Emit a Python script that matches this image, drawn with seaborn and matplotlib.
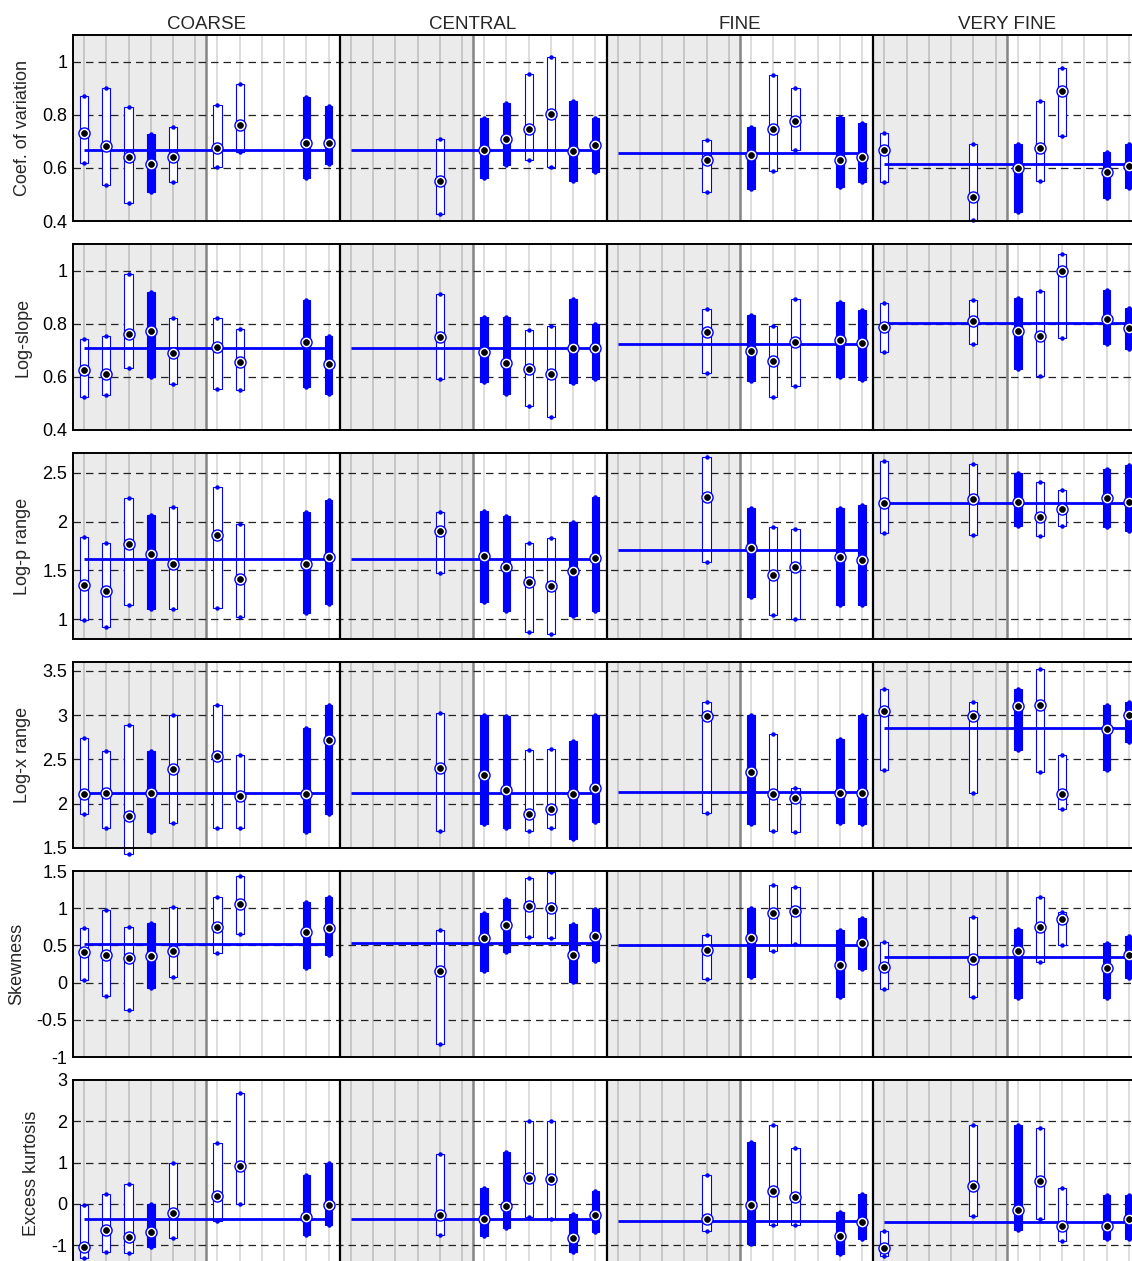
import numpy as np
import pandas as pd
import matplotlib
matplotlib.use('Agg')
import matplotlib.pyplot as plt
import matplotlib.transforms as mtransforms
import seaborn as sns

# groups (columns) and the slot (0..11) of every bar inside a group
groups = ['COARSE', 'CENTRAL', 'FINE', 'VERY FINE']
slots = [[0, 1, 2, 3, 4, 6, 7, 10, 11],
         [4, 6, 7, 8, 9, 10, 11],
         [4, 6, 7, 8, 10, 11],
         [0, 4, 6, 7, 8, 10, 11]]
filled = [[0, 0, 0, 1, 0, 0, 0, 1, 1],
          [0, 1, 1, 0, 0, 1, 1],
          [0, 1, 0, 0, 1, 1],
          [0, 0, 1, 0, 0, 1, 1]]

# Coef. of variation
cv_hi = [0.871, 0.902, 0.829, 0.727, 0.753, 0.835, 0.917, 0.867, 0.832,
         0.709, 0.787, 0.845, 0.954, 1.016, 0.850, 0.786,
         0.703, 0.754, 0.948, 0.902, 0.790, 0.767,
         0.733, 0.689, 0.689, 0.853, 0.975, 0.658, 0.689]
cv_lo = [0.620, 0.536, 0.466, 0.509, 0.547, 0.604, 0.661, 0.563, 0.614,
         0.425, 0.560, 0.609, 0.628, 0.603, 0.550, 0.586,
         0.510, 0.522, 0.589, 0.667, 0.528, 0.546,
         0.547, 0.402, 0.435, 0.552, 0.720, 0.488, 0.526]
cv_med = [0.733, 0.681, 0.640, 0.613, 0.640, 0.676, 0.763, 0.694, 0.694,
          0.549, 0.666, 0.708, 0.748, 0.803, 0.665, 0.685,
          0.630, 0.648, 0.748, 0.776, 0.630, 0.640,
          0.666, 0.490, 0.599, 0.676, 0.888, 0.585, 0.608]
cv_mean = [0.666, 0.666, 0.657, 0.614]

# Log-slope
ls_hi = [0.742, 0.754, 0.988, 0.918, 0.821, 0.821, 0.781, 0.890, 0.755,
         0.912, 0.824, 0.827, 0.778, 0.790, 0.893, 0.800,
         0.854, 0.831, 0.790, 0.894, 0.883, 0.851,
         0.878, 0.890, 0.896, 0.923, 1.064, 0.928, 0.860]
ls_lo = [0.525, 0.530, 0.634, 0.600, 0.573, 0.555, 0.551, 0.560, 0.535,
         0.593, 0.580, 0.534, 0.489, 0.448, 0.576, 0.591,
         0.614, 0.586, 0.524, 0.565, 0.601, 0.590,
         0.694, 0.725, 0.631, 0.604, 0.746, 0.725, 0.705]
ls_med = [0.624, 0.611, 0.763, 0.771, 0.691, 0.714, 0.656, 0.732, 0.647,
          0.750, 0.694, 0.651, 0.628, 0.611, 0.709, 0.708,
          0.768, 0.696, 0.660, 0.733, 0.738, 0.728,
          0.786, 0.810, 0.771, 0.754, 0.998, 0.816, 0.785]
ls_mean = [0.710, 0.710, 0.723, 0.804]

# Log-p range
lp_hi = [1.837, 1.776, 2.244, 2.071, 2.146, 2.352, 1.976, 2.102, 2.220,
         2.095, 2.108, 2.061, 1.777, 1.828, 2.000, 2.253,
         2.655, 2.135, 1.939, 1.926, 2.135, 2.169,
         2.618, 2.584, 2.500, 2.402, 2.318, 2.537, 2.574]
lp_lo = [0.993, 0.922, 1.146, 1.102, 1.104, 1.117, 1.024, 1.066, 1.156,
         1.473, 1.179, 1.091, 0.875, 0.851, 1.034, 1.091,
         1.588, 1.230, 1.044, 1.000, 1.145, 1.145,
         1.882, 1.858, 1.953, 1.848, 1.953, 1.939, 1.902]
lp_med = [1.351, 1.287, 1.766, 1.669, 1.568, 1.862, 1.409, 1.568, 1.642,
          1.899, 1.649, 1.537, 1.378, 1.341, 1.490, 1.632,
          2.247, 1.730, 1.449, 1.537, 1.642, 1.605,
          2.193, 2.230, 2.200, 2.047, 2.128, 2.243, 2.203]
lp_mean = [1.622, 1.618, 1.706, 2.193]

# Log-x range
lx_hi = [2.744, 2.594, 2.887, 2.594, 2.996, 3.110, 2.553, 2.857, 3.113,
         3.019, 3.000, 2.992, 2.605, 2.620, 2.703, 3.000,
         3.150, 3.000, 2.782, 2.177, 2.729, 3.000,
         3.297, 3.150, 3.300, 3.526, 2.553, 3.109, 3.150]
lx_lo = [1.883, 1.722, 1.430, 1.677, 1.778, 1.722, 1.722, 1.677, 1.883,
         1.688, 1.767, 1.726, 1.688, 1.722, 1.602, 1.790,
         1.899, 1.771, 1.688, 1.680, 1.778, 1.767,
         2.383, 2.117, 2.605, 2.357, 1.940, 2.383, 2.699]
lx_med = [2.105, 2.124, 1.865, 2.117, 2.387, 2.538, 2.090, 2.105, 2.725,
          2.402, 2.320, 2.150, 1.883, 1.940, 2.105, 2.173,
          2.992, 2.361, 2.105, 2.060, 2.120, 2.117,
          3.049, 2.992, 3.105, 3.120, 2.105, 2.846, 2.996]
lx_mean = [2.124, 2.124, 2.135, 2.857]

# Skewness
sk_hi = [0.730, 0.978, 0.753, 0.802, 1.013, 1.144, 1.431, 1.090, 1.144,
         0.706, 0.935, 1.130, 1.400, 1.483, 0.784, 0.984,
         0.643, 1.000, 1.308, 1.281, 0.710, 0.872,
         0.539, 0.885, 0.724, 1.144, 0.951, 0.526, 0.629]
sk_lo = [0.036, -0.180, -0.369, -0.072, 0.081, 0.396, 0.652, 0.202, 0.369,
         -0.831, 0.153, 0.413, 0.611, 0.593, 0.009, 0.288,
         0.049, 0.072, 0.431, 0.521, -0.189, 0.180,
         -0.081, -0.193, -0.202, 0.283, 0.503, -0.211, 0.058]
sk_med = [0.409, 0.373, 0.324, 0.355, 0.423, 0.742, 1.054, 0.683, 0.733,
          0.153, 0.593, 0.768, 1.029, 1.007, 0.377, 0.620,
          0.440, 0.602, 0.930, 0.962, 0.243, 0.528,
          0.216, 0.315, 0.427, 0.751, 0.850, 0.202, 0.373]
sk_mean = [0.524, 0.528, 0.499, 0.346]

# Excess kurtosis
ku_hi = [-0.024, 0.233, 0.49, 0.0, 1.0, 1.47, 2.69, 0.70, 1.0,
         1.2, 0.39, 1.25, 2.0, 2.0, -0.24, 0.31,
         0.70, 1.49, 1.90, 1.35, -0.19, 0.24,
         -0.65, 1.90, 1.90, 1.85, 0.39, 0.22, 0.22]
ku_lo = [-1.31, -1.16, -1.19, -1.04, -0.83, -0.418, 0.0, -0.74, -0.51,
         -0.75, -0.77, -0.58, -0.31, -0.36, -1.16, -0.67,
         -0.65, -0.96, -0.51, -0.51, -1.2, -0.84,
         -1.25, -0.29, -0.63, -0.36, -0.89, -0.84, -0.84]
ku_med = [-1.05, -0.64, -0.81, -0.67, -0.225, 0.20, 0.92, -0.32, -0.03,
          -0.27, -0.36, -0.05, 0.63, 0.60, -0.82, -0.27,
          -0.36, -0.02, 0.31, 0.17, -0.77, -0.43,
          -1.06, 0.43, -0.14, 0.55, -0.53, -0.53, -0.36]
ku_mean = [-0.37, -0.36, -0.41, -0.43]

rows = [
    ('Coef. of variation', cv_lo, cv_hi, cv_med, cv_mean, (0.4, 1.1), [0.4, 0.6, 0.8, 1]),
    ('Log-slope', ls_lo, ls_hi, ls_med, ls_mean, (0.4, 1.1), [0.4, 0.6, 0.8, 1]),
    ('Log-p range', lp_lo, lp_hi, lp_med, lp_mean, (0.8, 2.7), [1, 1.5, 2, 2.5]),
    ('Log-x range', lx_lo, lx_hi, lx_med, lx_mean, (1.5, 3.6), [1.5, 2, 2.5, 3, 3.5]),
    ('Skewness', sk_lo, sk_hi, sk_med, sk_mean, (-1, 1.5), [-1, -0.5, 0, 0.5, 1, 1.5]),
    ('Excess kurtosis', ku_lo, ku_hi, ku_med, ku_mean, (-1.5, 3), [-1, 0, 1, 2, 3]),
]

sns.set_theme(style='white')
plt.rcParams['font.family'] = ['Liberation Sans', 'DejaVu Sans']

BLUE = '#0000ff'
W, H = 1132, 1261
fig = plt.figure(figsize=(W / 100, H / 100), dpi=100)

# bar positions along x (12 slots per group)
xpos = np.array([g * 12 + s + 0.5 for g in range(4) for s in slots[g]])
is_filled = np.array([f for g in range(4) for f in filled[g]], dtype=bool)

for r, (label, lo, hi, med, mean, ylim, ticks) in enumerate(rows):
    top_px = 35 + 209 * r
    ax = fig.add_axes([73 / W, 1 - (top_px + 186) / H, 1067 / W, 186 / H])
    ax.set_xlim(0, 48)
    ax.set_ylim(*ylim)

    df = pd.DataFrame({'x': xpos, 'lo': lo, 'hi': hi, 'med': med, 'filled': is_filled})

    # shaded half of each group, light slot lines, separators
    for g in range(4):
        ax.axvspan(g * 12, g * 12 + 6, facecolor='#ebebeb', edgecolor='none', zorder=0)
        for s in range(12):
            c = '#c4c4c4' if s < 6 else '#dadada'
            ax.axvline(g * 12 + s + 0.5, color=c, lw=1.3, zorder=0.6)
        ax.axvline(g * 12 + 6, color='#858585', lw=1.8, zorder=0.8)
        if g > 0:
            ax.axvline(g * 12, color='black', lw=1.6, zorder=6)

    for t in ticks:
        if ylim[0] < t < ylim[1]:
            ax.axhline(t, color='#222222', lw=0.9, ls=(0, (6, 4)), zorder=1)

    op = df[~df['filled']]
    fi = df[df['filled']]
    ax.bar(op['x'], op['hi'] - op['lo'], bottom=op['lo'], width=0.37,
           facecolor='white', edgecolor=BLUE, lw=0.8, zorder=3, clip_on=False)
    ax.bar(fi['x'], fi['hi'] - fi['lo'], bottom=fi['lo'], width=0.34,
           facecolor=BLUE, edgecolor=BLUE, lw=0.8, zorder=3, clip_on=False)
    ax.plot(df['x'], df['hi'], ls='none', marker='o', ms=2.2, color=BLUE, zorder=3.5, clip_on=False)
    ax.plot(df['x'], df['lo'], ls='none', marker='o', ms=2.2, color=BLUE, zorder=3.5, clip_on=False)

    for g in range(4):
        ax.hlines(mean[g], g * 12 + 0.5, g * 12 + 11.5, color=BLUE, lw=2, zorder=4)

    sns.scatterplot(data=df, x='x', y='med', ax=ax, s=64, color='white',
                    edgecolor=BLUE, linewidth=1.0, zorder=5, legend=False, clip_on=False)
    sns.scatterplot(data=df, x='x', y='med', ax=ax, s=18, color='black',
                    edgecolor='black', linewidth=0.5, zorder=5.5, legend=False, clip_on=False)

    ax.set_xticks([])
    ax.set_yticks(ticks)
    ax.set_yticklabels([f'{t:g}' for t in ticks], fontsize=13)
    ax.tick_params(axis='y', direction='in', length=4, width=1, pad=4, colors='black')
    ax.set_xlabel('')
    ax.set_ylabel(label, fontsize=13, labelpad=8)
    for sp in ax.spines.values():
        sp.set_color('black')
        sp.set_linewidth(1.4)
        sp.set_zorder(7)

    if r == 0:
        trans = mtransforms.blended_transform_factory(ax.transData, ax.transAxes)
        for g, name in enumerate(groups):
            ax.text(g * 12 + 6, 1.055, name, transform=trans, ha='center', va='center', fontsize=13.5)

fig.savefig('out.png', dpi=100)
